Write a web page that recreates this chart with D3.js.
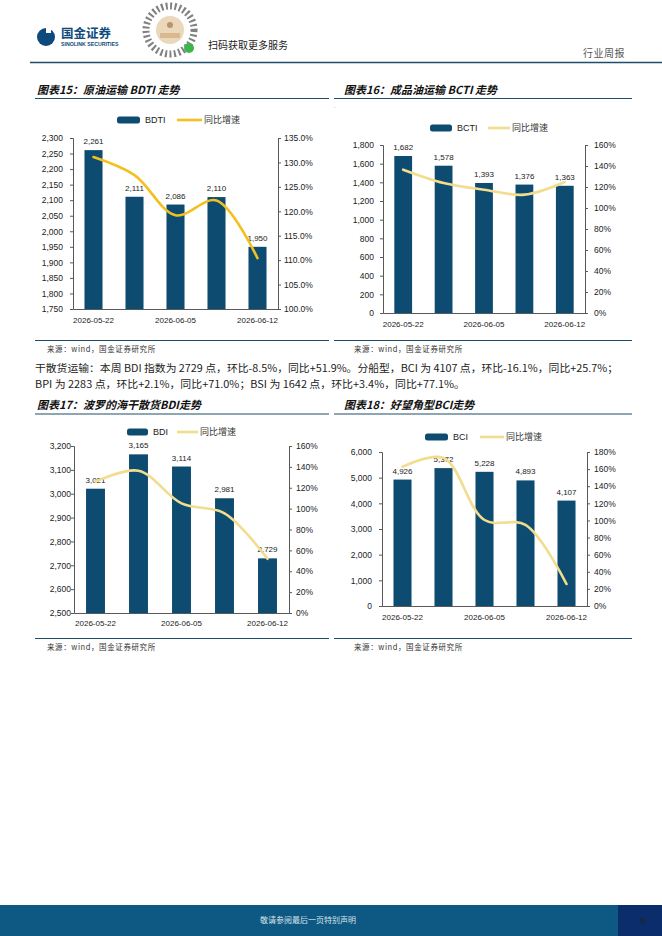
<!DOCTYPE html>
<html><head><meta charset="utf-8">
<script src="https://cdn.jsdelivr.net/npm/d3@7"></script>
<style>body{margin:0;background:#fff}svg{display:block}</style>
</head><body>
<svg id="page" width="662" height="936"></svg>
<script>
// ---------- data ----------
const categories = [0, 1, 2, 3, 4];
const xTickLabels = ["2026-05-22", "", "2026-06-05", "", "2026-06-12"];

const bdti = [2261, 2111, 2086, 2110, 1950];
const bdtiYoY = [131.1, 127.4, 119.2, 122.2, 110.4];
const bdtiLeftTicks = [1750,1800,1850,1900,1950,2000,2050,2100,2150,2200,2250,2300];
const bdtiRightTicks = [100,105,110,115,120,125,130,135];

const bcti = [1682, 1578, 1393, 1376, 1363];
const bctiYoY = [136.5, 123.8, 117.4, 112.7, 124.8];
const bctiLeftTicks = [0,200,400,600,800,1000,1200,1400,1600,1800];
const bctiRightTicks = [0,20,40,60,80,100,120,140,160];

const bdi = [3021, 3165, 3114, 2981, 2729];
const bdiYoY = [125.8, 136.3, 105.0, 95.5, 51.9];
const bdiLeftTicks = [2500,2600,2700,2800,2900,3000,3100,3200];
const bdiRightTicks = [0,20,40,60,80,100,120,140,160];

const bci = [4926, 5372, 5228, 4893, 4107];
const bciYoY = [162.8, 173.0, 100.5, 94.7, 25.7];
const bciLeftTicks = [0,1000,2000,3000,4000,5000,6000];
const bciRightTicks = [0,20,40,60,80,100,120,140,160,180];

const bodyLines = [
  "干散货运输：本周 BDI 指数为 2729 点，环比-8.5%，同比+51.9%。分船型，BCI 为 4107 点，环比-16.1%，同比+25.7%；",
  "BPI 为 2283 点，环比+2.1%，同比+71.0%；BSI 为 1642 点，环比+3.4%，同比+77.1%。"
];

// ---------- page ----------
const svg = d3.select("#page");
const NAVY = "#1F4E6B", BAR = "#0D4B71";
const LAT = "'Liberation Sans', Arial, sans-serif";
const CJK = "'Noto Sans CJK SC', 'Liberation Sans', sans-serif";

// header
const hdr = svg.append("g");
hdr.append("circle").attr("cx", 46).attr("cy", 37).attr("r", 9).attr("fill", "#0E4A7B");
hdr.append("rect").attr("x", 46).attr("y", 27).attr("width", 5).attr("height", 6).attr("fill", "#fff");
hdr.append("text").attr("x", 61).attr("y", 38).attr("font-family", CJK).attr("font-weight", 700)
  .attr("font-size", 12.5).attr("fill", "#0E4A7B").text("国金证券");
hdr.append("text").attr("x", 61).attr("y", 45.5).attr("font-family", LAT).attr("font-weight", 700)
  .attr("font-size", 5.2).attr("fill", "#0E4A7B").text("SINOLINK SECURITIES");
// QR decoration
hdr.append("circle").attr("cx", 170).attr("cy", 30).attr("r", 24).attr("fill", "none")
  .attr("stroke", "#555").attr("stroke-width", 7).attr("stroke-dasharray", "2 2.5").attr("opacity", 0.75);
hdr.append("circle").attr("cx", 170).attr("cy", 30).attr("r", 14).attr("fill", "#EAD7BC");
hdr.append("circle").attr("cx", 170).attr("cy", 25).attr("r", 3).attr("fill", "#B8946A");
hdr.append("rect").attr("x", 160).attr("y", 33).attr("width", 20).attr("height", 5).attr("fill", "#D9B98F");
hdr.append("circle").attr("cx", 189).attr("cy", 48).attr("r", 5).attr("fill", "#3DB54A");
hdr.append("text").attr("x", 208).attr("y", 49).attr("font-family", CJK).attr("font-size", 10)
  .attr("fill", "#222").text("扫码获取更多服务");
hdr.append("text").attr("x", 625).attr("y", 57).attr("text-anchor", "end").attr("font-family", CJK)
  .attr("font-size", 10).attr("fill", "#555").attr("letter-spacing", 0.5).text("行业周报");
hdr.append("line").attr("x1", 30).attr("x2", 662).attr("y1", 62.5).attr("y2", 62.5)
  .attr("stroke", NAVY).attr("stroke-width", 1.3);

// footer
svg.append("rect").attr("x", 0).attr("y", 905).attr("width", 618).attr("height", 31).attr("fill", "#0D5983");
svg.append("rect").attr("x", 618).attr("y", 905).attr("width", 44).attr("height", 31).attr("fill", "#0B2D6B");
svg.append("text").attr("x", 308).attr("y", 923).attr("text-anchor", "middle").attr("font-family", CJK)
  .attr("font-size", 8).attr("fill", "#D8E2EA").text("敬请参阅最后一页特别声明");
svg.append("text").attr("x", 643).attr("y", 924).attr("text-anchor", "middle").attr("font-family", LAT)
  .attr("font-size", 9).attr("fill", "#222").text("8");

// body text
svg.append("text").attr("x", 35).attr("y", 372).attr("font-family", CJK).attr("font-size", 10)
  .attr("fill", "#222").attr("textLength", 583).attr("lengthAdjust", "spacingAndGlyphs").text(bodyLines[0]);
svg.append("text").attr("x", 35).attr("y", 388).attr("font-family", CJK).attr("font-size", 10)
  .attr("fill", "#222").attr("textLength", 430).attr("lengthAdjust", "spacingAndGlyphs").text(bodyLines[1]);

// tiny dot artifact near chart 16
svg.append("text").attr("x", 334).attr("y", 108).attr("font-family", LAT).attr("font-size", 6)
  .attr("fill", "#888").text(".");

// ---------- chart builder ----------
function drawChart(cfg) {
  const g = svg.append("g");
  // title + rules
  g.append("text").attr("x", cfg.titleX).attr("y", cfg.titleY).attr("font-family", CJK)
    .attr("font-weight", 700).attr("font-style", "italic").attr("font-size", 11).attr("fill", "#111")
    .text(cfg.title);
  g.append("line").attr("x1", cfg.panel[0]).attr("x2", cfg.panel[1]).attr("y1", cfg.ruleTop).attr("y2", cfg.ruleTop)
    .attr("stroke", NAVY).attr("stroke-width", 1.2);
  g.append("line").attr("x1", cfg.panel[0]).attr("x2", cfg.panel[1]).attr("y1", cfg.ruleBot).attr("y2", cfg.ruleBot)
    .attr("stroke", NAVY).attr("stroke-width", 1.2);
  g.append("text").attr("x", cfg.titleX + 10).attr("y", cfg.ruleBot + 11).attr("font-family", CJK)
    .attr("font-size", 7.5).attr("fill", "#333").attr("letter-spacing", 0.6).text("来源：wind，国金证券研究所");

  const x = d3.scaleBand().domain(categories).range([cfg.x0, cfg.x1]).paddingInner(0.56).paddingOuter(0.28);
  const yL = d3.scaleLinear().domain(d3.extent(cfg.leftTicks)).range([cfg.yB, cfg.yT]);
  const yR = d3.scaleLinear().domain(d3.extent(cfg.rightTicks)).range([cfg.yB, cfg.yT]);

  // bars
  g.selectAll("rect.bar").data(cfg.bars).join("rect").attr("class", "bar")
    .attr("x", (d, i) => x(categories[i])).attr("width", x.bandwidth())
    .attr("y", d => yL(d)).attr("height", d => cfg.yB - yL(d)).attr("fill", BAR);
  // bar labels
  g.selectAll("text.bl").data(cfg.bars).join("text").attr("class", "bl")
    .attr("x", (d, i) => x(categories[i]) + x.bandwidth() / 2).attr("y", d => yL(d) - 6)
    .attr("text-anchor", "middle").attr("font-family", LAT).attr("font-size", 8).attr("fill", "#222")
    .text(d => d3.format(",")(d));

  // axes
  const axL = g.append("g").attr("transform", `translate(${cfg.x0},0)`)
    .call(d3.axisLeft(yL).tickValues(cfg.leftTicks).tickSize(3).tickPadding(cfg.lpad).tickFormat(d3.format(",")));
  const axR = g.append("g").attr("transform", `translate(${cfg.x1},0)`)
    .call(d3.axisRight(yR).tickValues(cfg.rightTicks).tickSize(3).tickPadding(cfg.rpad).tickFormat(cfg.rfmt));
  [axL, axR].forEach(a => {
    a.select(".domain").attr("stroke", "#595959");
    a.selectAll(".tick line").attr("stroke", "#595959");
    a.selectAll("text").attr("font-family", LAT).attr("font-size", 8.5).attr("fill", "#222");
  });
  const axB = g.append("g").attr("transform", `translate(0,${cfg.yB})`)
    .call(d3.axisBottom(x).tickSize(0).tickPadding(cfg.bpad).tickFormat((d, i) => xTickLabels[i]));
  axB.select(".domain").attr("stroke", "#595959");
  axB.selectAll("text").attr("font-family", LAT).attr("font-size", 8).attr("fill", "#222");

  // line
  const line = d3.line().x((d, i) => x(categories[i]) + x.bandwidth() / 2).y(d => yR(d))
    .curve(d3.curveCatmullRom.alpha(0.5));
  g.append("path").datum(cfg.yoy).attr("d", line).attr("fill", "none")
    .attr("stroke", cfg.lineColor).attr("stroke-width", 2.6).attr("stroke-linecap", "round");

  // legend
  const L = cfg.legend;
  g.append("rect").attr("x", L.rx).attr("y", L.y - 3.5).attr("width", L.rw).attr("height", 7).attr("rx", 2.5)
    .attr("fill", BAR);
  g.append("text").attr("x", L.rx + L.rw + 5).attr("y", L.y + 3.2).attr("font-family", LAT)
    .attr("font-size", 9).attr("fill", "#222").text(cfg.name);
  g.append("line").attr("x1", L.lx).attr("x2", L.lx + L.lw).attr("y1", L.y).attr("y2", L.y)
    .attr("stroke", cfg.lineColor).attr("stroke-width", 2.6);
  g.append("text").attr("x", L.lx + L.lw + 2).attr("y", L.y + 3.2).attr("font-family", CJK)
    .attr("font-size", 9).attr("fill", "#333").text("同比增速");
}

const pct1 = d => d3.format(".1f")(d) + "%";
const pct0 = d => d + "%";

drawChart({
  title: "图表15：原油运输 BDTI 走势", titleX: 37, titleY: 94, panel: [35, 329], ruleTop: 98.5, ruleBot: 340.5,
  name: "BDTI", bars: bdti, yoy: bdtiYoY, leftTicks: bdtiLeftTicks, rightTicks: bdtiRightTicks, rfmt: pct1,
  x0: 73, x1: 278, yT: 138, yB: 309, lpad: 7, rpad: 3, bpad: 8,
  lineColor: "#F4C01E", legend: { rx: 117, rw: 23, lx: 177, lw: 25, y: 120 }
});
drawChart({
  title: "图表16：成品油运输 BCTI 走势", titleX: 344, titleY: 94, panel: [334, 632], ruleTop: 98.5, ruleBot: 340.5,
  name: "BCTI", bars: bcti, yoy: bctiYoY, leftTicks: bctiLeftTicks, rightTicks: bctiRightTicks, rfmt: pct0,
  x0: 383, x1: 585, yT: 145, yB: 313, lpad: 6, rpad: 6, bpad: 8,
  lineColor: "#F2DC8E", legend: { rx: 430, rw: 22, lx: 488, lw: 22, y: 128 }
});
drawChart({
  title: "图表17：波罗的海干散货BDI走势", titleX: 37, titleY: 409, panel: [35, 329], ruleTop: 414, ruleBot: 638.5,
  name: "BDI", bars: bdi, yoy: bdiYoY, leftTicks: bdiLeftTicks, rightTicks: bdiRightTicks, rfmt: pct0,
  x0: 74, x1: 289, yT: 446, yB: 613, lpad: 0, rpad: 4, bpad: 7,
  lineColor: "#F2DC8E", legend: { rx: 127, rw: 21, lx: 177, lw: 21, y: 432 }
});
drawChart({
  title: "图表18：好望角型BCI走势", titleX: 344, titleY: 409, panel: [334, 632], ruleTop: 414, ruleBot: 638.5,
  name: "BCI", bars: bci, yoy: bciYoY, leftTicks: bciLeftTicks, rightTicks: bciRightTicks, rfmt: pct0,
  x0: 382, x1: 587, yT: 452, yB: 606, lpad: 7, rpad: 4, bpad: 8,
  lineColor: "#F2DC8E", legend: { rx: 425, rw: 23, lx: 480, lw: 24, y: 437 }
});
</script>
</body></html>
